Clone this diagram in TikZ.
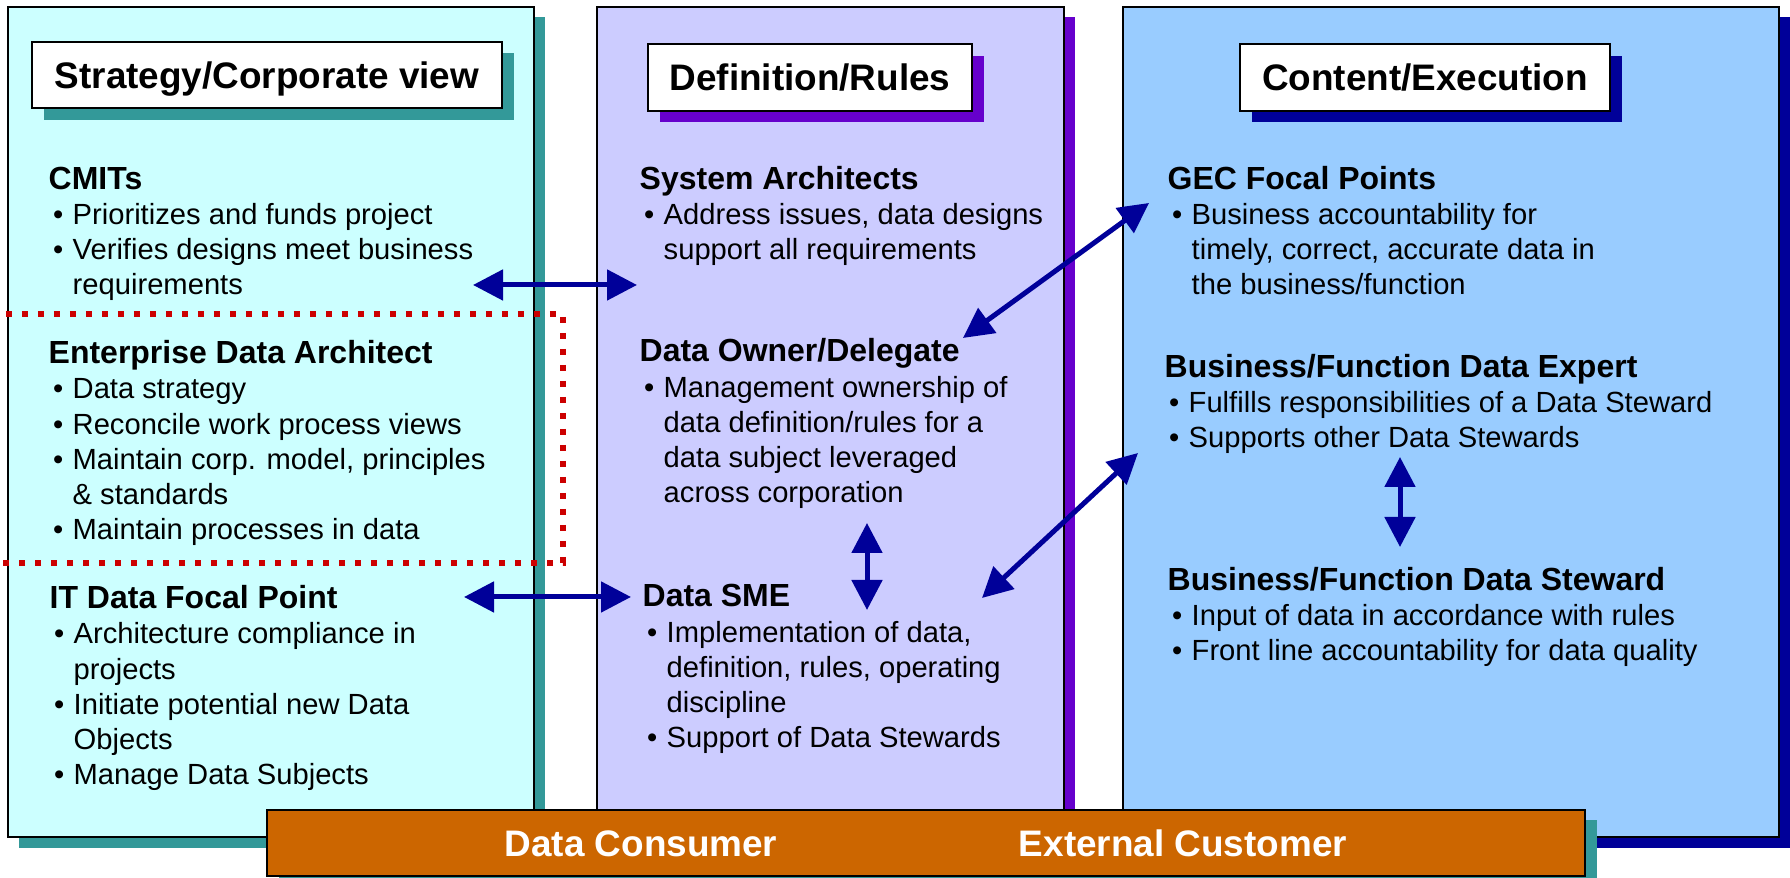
\documentclass[tikz,border=0pt]{standalone}
\usepackage{fontspec}
\setmainfont{Liberation Sans}
\usetikzlibrary{arrows.meta,shadows}

\definecolor{cyanpanel}{HTML}{CCFFFF}
\definecolor{lilacpanel}{HTML}{CCCCFF}
\definecolor{bluepanel}{HTML}{99CCFF}
\definecolor{tealshade}{HTML}{339999}
\definecolor{purpleshade}{HTML}{6600CC}
\definecolor{navyshade}{HTML}{000099}
\definecolor{barorange}{HTML}{CC6600}
\definecolor{dotred}{HTML}{CC0000}

% bullet item and continuation line
\newcommand{\itm}{\hspace*{0.45mm}\makebox[1.95mm][l]{•}}
\newcommand{\cnt}{\hspace*{2.4mm}}
\newcommand{\hd}{\bfseries\fontsize{9.1}{10.05}\selectfont}

\begin{document}
\begin{tikzpicture}[
x=0.1mm,y=-0.1mm,
hdr/.style={draw=black,line width=0.2mm,fill=white,minimum height=6.65mm,inner sep=0pt,
  text height=2.65mm,text depth=0pt,font=\bfseries\fontsize{10.5}{12}\selectfont},
% blocks sit on the baseline of their last line
blk/.style={anchor=base west,inner sep=0pt,align=left,font=\fontsize{8.3}{10.05}\selectfont},
bartext/.style={anchor=base,text=white,font=\bfseries\fontsize{10.5}{12}\selectfont},
link/.style={{Triangle[length=3mm,width=3mm]}-{Triangle[length=3mm,width=3mm]},draw=navyshade,line width=0.5mm},
edge/.style={draw=black,line width=0.2mm}
]
\useasboundingbox (0,0) rectangle (1790,878);

% three columns with their shadows
\fill[tealshade] (19,17) rectangle (545,848);
\filldraw[edge,fill=cyanpanel] (8,7) rectangle (534,837);
\fill[purpleshade] (608,17) rectangle (1075,848);
\filldraw[edge,fill=lilacpanel] (597,7) rectangle (1064,837);
\fill[navyshade] (1134,17) rectangle (1800,848);
\filldraw[edge,fill=bluepanel] (1123,7) rectangle (1779,837);

% dotted frame round the architect block
\draw[dotred,line width=0.67mm,dash pattern=on 0.65mm off 0.95mm]
  (-10,314) -- (563,314) -- (563,563) -- (-10,563);

% column titles
\node[hdr,minimum width=47mm,general shadow={fill=tealshade,shadow xshift=1.15mm,shadow yshift=-1.15mm}]
  (strat) at (267,75) {Strategy/Corporate view};
\node[hdr,minimum width=32.4mm,general shadow={fill=purpleshade,shadow xshift=1.15mm,shadow yshift=-1.15mm}]
  (rules) at (810,77.5) {Definition/Rules};
\node[hdr,minimum width=37mm,general shadow={fill=navyshade,shadow xshift=1.15mm,shadow yshift=-1.15mm}]
  (exec) at (1425,77.5) {Content/Execution};

% strategy column
\node[blk] (cmits) at (48,295) {{\hd CMITs}\\
\itm Prioritizes and funds project\\
\itm Verifies designs meet business\\
\cnt requirements};
\node[blk] (eda) at (48,540) {{\hd Enterprise Data Architect}\\
\itm Data strategy\\
\itm Reconcile work process views\\
\itm Maintain corp. model, principles\\
\cnt \& standards\\
\itm Maintain processes in data};
\node[blk] (itfp) at (49,785) {{\hd IT Data Focal Point}\\
\itm Architecture compliance in\\
\cnt projects\\
\itm Initiate potential new Data\\
\cnt Objects\\
\itm Manage Data Subjects};

% definition column
\node[blk] (sysarch) at (639,260) {{\hd System Architects}\\
\itm Address issues, data designs\\
\cnt support all requirements};
\node[blk] (owner) at (639,503) {{\hd Data Owner/Delegate}\\
\itm Management ownership of\\
\cnt data definition/rules for a\\
\cnt data subject leveraged\\
\cnt across corporation};
\node[blk] (sme) at (642,748) {{\hd Data SME}\\
\itm Implementation of data,\\
\cnt definition, rules, operating\\
\cnt discipline\\
\itm Support of Data Stewards};

% execution column
\node[blk] (gec) at (1167,295) {{\hd GEC Focal Points}\\
\itm Business accountability for\\
\cnt timely, correct, accurate data in\\
\cnt the business/function};
\node[blk] (expert) at (1164,448) {{\hd Business/Function Data Expert}\\
\itm Fulfills responsibilities of a Data Steward\\
\itm Supports other Data Stewards};
\node[blk] (steward) at (1167,661) {{\hd Business/Function Data Steward}\\
\itm Input of data in accordance with rules\\
\itm Front line accountability for data quality};

% arrow ends
\coordinate (cmitsE) at (473,285);
\coordinate (sysW) at (637,285);
\coordinate (itfpE) at (464,597);
\coordinate (smeW) at (631,597);
\coordinate (ownerNE) at (963,338);
\coordinate (gecW) at (1149,203);
\coordinate (smeNE) at (982,598);
\coordinate (expertW) at (1138,453);
\coordinate (ownerS) at (867,523);
\coordinate (smeN) at (867,610);
\coordinate (expertS) at (1400,457);
\coordinate (stewardN) at (1400,547);

\draw[link] (cmitsE) -- (sysW);
\draw[link] (itfpE) -- (smeW);
\draw[link] (ownerNE) -- (gecW);
\draw[link] (smeNE) -- (expertW);
\draw[link] (ownerS) -- (smeN);
\draw[link] (expertS) -- (stewardN);

% customer bar
\node[edge,fill=barorange,minimum width=131.8mm,minimum height=6.6mm,inner sep=0pt,
  general shadow={fill=tealshade,shadow xshift=1.2mm,shadow yshift=-1.0mm}] (bar) at (926,843) {};
\node[bartext] (consumer) at (641,857) {Data Consumer};
\node[bartext] (customer) at (1183,857) {External Customer};
\end{tikzpicture}
\end{document}
